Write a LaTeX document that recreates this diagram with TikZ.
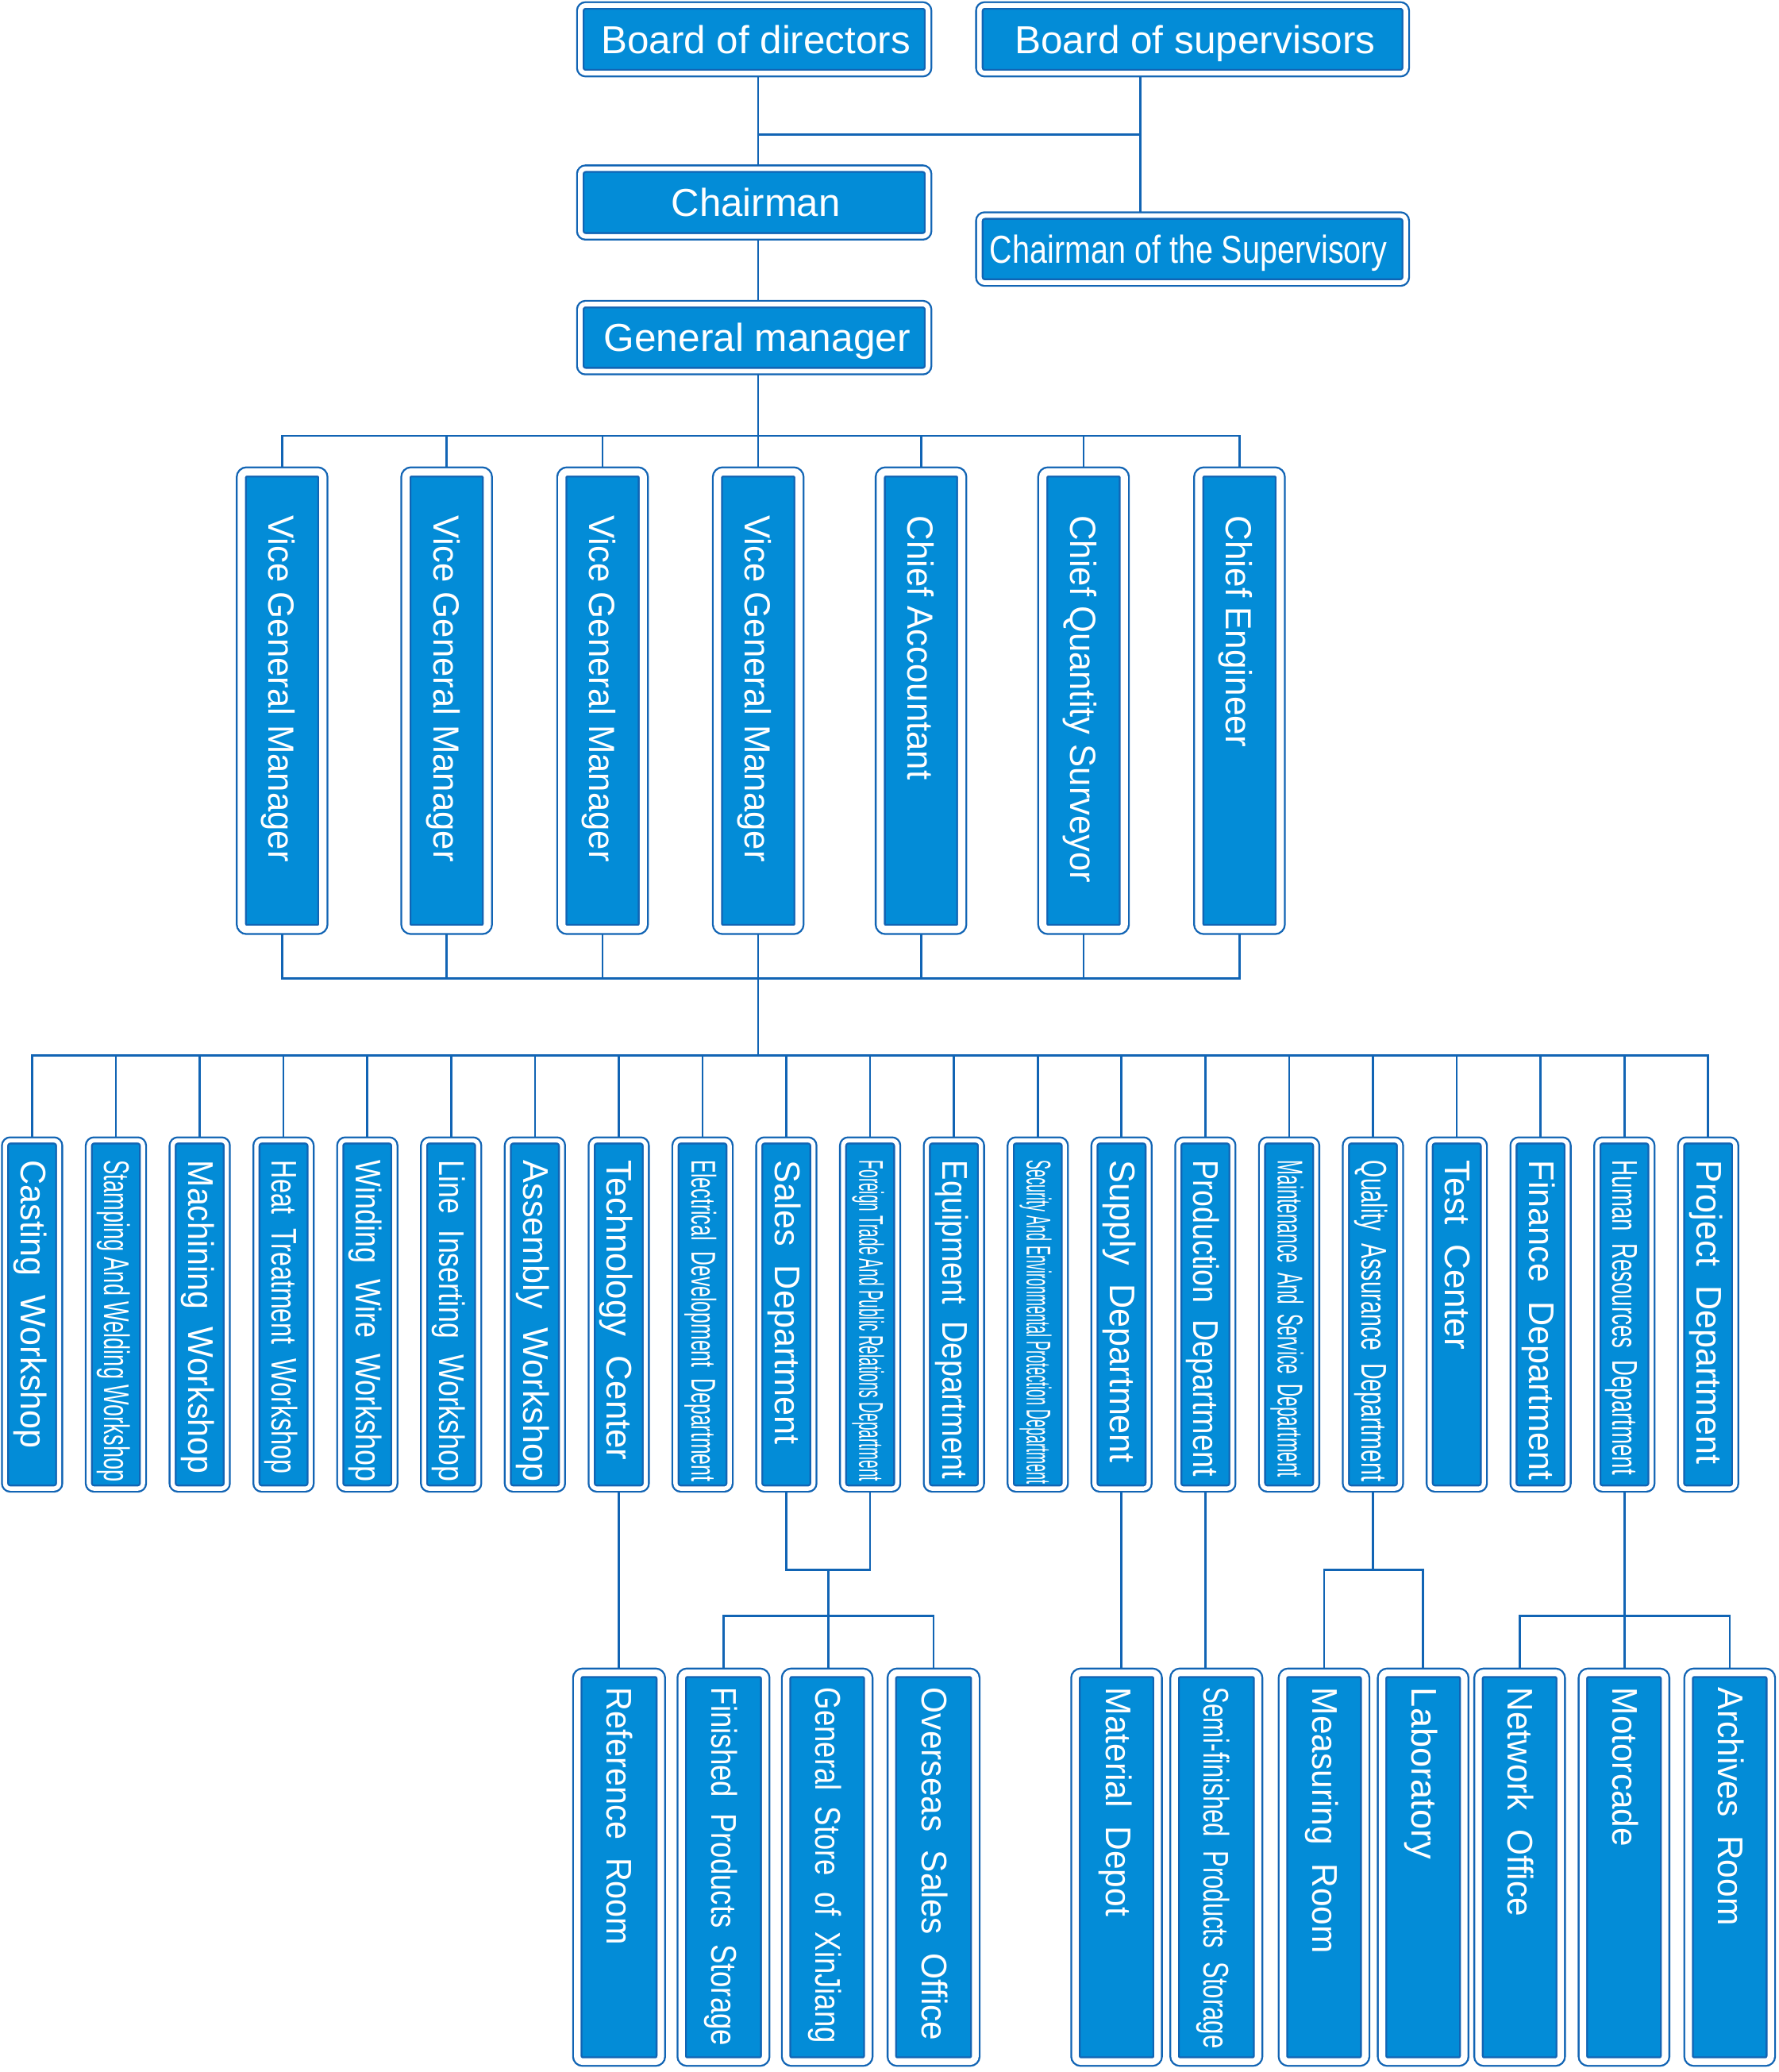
\documentclass[tikz,border=0pt]{standalone}
\usepackage{fontspec}
\usepackage{graphicx}
\setmainfont{Liberation Sans}
\usetikzlibrary{backgrounds,calc}
\definecolor{cfill}{RGB}{3,140,215}
\definecolor{cline}{RGB}{17,100,180}
\tikzset{
  conn/.style={draw=cline, line width=1.6pt},
  orgbox/.style={draw=cline, double=white, double distance=#1, line width=1.4pt,
    fill=cfill, rounded corners=4pt, inner sep=0pt},
  vlab/.style={text=white, inner sep=0pt, rotate=-90, anchor=base west},
  hlab/.style={text=white, inner sep=0pt, anchor=base},
}
% name, x1, y1, x2, y2, gap
\newcommand\obox[6]{\node[orgbox=#6pt,
  minimum width={((#4)-(#2)-#6-2.8)*1pt},
  minimum height={((#5)-(#3)-#6-2.8)*1pt}] (#1) at ({((#2)+(#4))/2},{((#3)+(#5))/2}) {};}
% name, cx, ytop, size, length, text
\newcommand\vlabel[6]{\node[vlab] (#1) at ({#2-0.358*#4},#3)
  {\fontsize{#4pt}{#4pt}\selectfont\resizebox{#5pt}{\height}{#6}};}
% name, cx, cy, size, length, text
\newcommand\hlabel[6]{\node[hlab] (#1) at (#2,{#3+0.358*#4})
  {\fontsize{#4pt}{#4pt}\selectfont\resizebox{#5pt}{\height}{#6}};}
\begin{document}
\begin{tikzpicture}[x=1pt,y=-1pt]
\useasboundingbox (0,0) rectangle (1346,1568);

% ---------- top boxes ----------
\obox{bod}{436}{1}{705.5}{58.5}{3.5}
\obox{bos}{738}{1}{1067}{58.5}{3.5}
\obox{chair}{436}{124.5}{705.5}{182}{3.5}
\obox{cos}{738}{160}{1067}{217}{3.5}
\obox{gm}{436}{227}{705.5}{284}{3.5}
\hlabel{tbod}{572}{29.75}{29.5}{234}{Board of directors}
\hlabel{tbos}{904.5}{29.75}{29.5}{273}{Board of supervisors}
\hlabel{tchair}{572}{153.25}{29.5}{128}{Chairman}
\hlabel{tcos}{899.5}{188.5}{29.5}{301}{Chairman of the Supervisory}
\hlabel{tgm}{573}{255.5}{29.5}{232}{General manager}

% ---------- second row ----------
\obox{v1}{178.5}{353}{248.5}{707.5}{5.5}
\obox{v2}{303}{353}{373}{707.5}{5.5}
\obox{v3}{421}{353}{491}{707.5}{5.5}
\obox{v4}{538.8}{353}{608.8}{707.5}{5.5}
\obox{v5}{662}{353}{732}{707.5}{5.5}
\obox{v6}{785}{353}{855}{707.5}{5.5}
\obox{v7}{903}{353}{973}{707.5}{5.5}
\vlabel{tv1}{213.5}{390}{27.5}{262}{Vice General Manager}
\vlabel{tv2}{338}{390}{27.5}{262}{Vice General Manager}
\vlabel{tv3}{456}{390}{27.5}{262}{Vice General Manager}
\vlabel{tv4}{573.8}{390}{27.5}{262}{Vice General Manager}
\vlabel{tv5}{697}{390}{27.5}{200}{Chief Accountant}
\vlabel{tv6}{820}{390}{27.5}{278}{Chief Quantity Surveyor}
\vlabel{tv7}{938}{390}{27.5}{175}{Chief Engineer}

% ---------- third row ----------
\foreach \sz/\len/\txt [count=\i] in {
  27/218/Casting~~Workshop,
  27/243/Stamping And Welding Workshop,
  27/237/Machining~~Workshop,
  27/237/Heat~~Treatment~~Workshop,
  27/243/Winding~~Wire~~Workshop,
  27/243/Line~~Inserting~~Workshop,
  27/243/Assembly~~Workshop,
  27/227/Technology~~Center,
  26/243/Electrical~~Development~~Department,
  27/215/Sales~~Department,
  26/243/Foreign Trade And Public Relations Department,
  27/241/Equipment~~Department,
  26/245/Security And Environmental Protection Department,
  27/229/Supply~~Department,
  27/239/Production~~Department,
  27/240/Maintenance~~And~~Service~~Department,
  27/243/Quality~~Assurance~~Department,
  27/143/Test~~Center,
  27/242/Finance~~Department,
  27/238/Human~~Resources~~Department,
  27/230/Project~~Department}{
  \pgfmathsetmacro\cx{24.3+63.42*(\i-1)}
  \obox{r\i}{\cx-23.5}{860}{\cx+23.5}{1129.5}{3.2}
  \vlabel{t\i}{\cx+1}{878}{\sz}{\len}{\txt}
}

% ---------- bottom row ----------
\obox{ref}{433}{1262}{504}{1564}{5}
\obox{fin}{512}{1262}{583}{1564}{5}
\obox{gen}{591}{1262}{661}{1564}{5}
\obox{ovs}{671}{1262}{742}{1564}{5}
\obox{mat}{810}{1262}{880}{1564}{5}
\obox{semi}{885}{1262}{956}{1564}{5}
\obox{meas}{967}{1262}{1037}{1564}{5}
\obox{lab}{1042}{1262}{1112}{1564}{5}
\obox{net}{1115}{1262}{1185}{1564}{5}
\obox{mot}{1194}{1262}{1264}{1564}{5}
\obox{arc}{1274}{1262}{1344}{1564}{5}
\vlabel{tref}{469}{1277}{27}{195}{Reference~~Room}
\vlabel{tfin}{548.5}{1277}{27}{271}{Finished~~Products~~Storage}
\vlabel{tgen}{627}{1277}{27}{269}{General~~Store~~of~~XinJiang}
\vlabel{tovs}{707.5}{1277}{27}{267}{Overseas~~Sales~~Office}
\vlabel{tmat}{847}{1277}{27}{173}{Material~~Depot}
\vlabel{tsemi}{921}{1277}{27}{273}{Semi-finished~~Products~~Storage}
\vlabel{tmeas}{1003}{1277}{27}{201}{Measuring~~Room}
\vlabel{tlab}{1078}{1277}{27}{130}{Laboratory}
\vlabel{tnet}{1151}{1277}{27}{173}{Network~~Office}
\vlabel{tmot}{1230}{1277}{27}{120}{Motorcade}
\vlabel{tarc}{1310}{1277}{27}{180}{Archives~~Room}

% ---------- connectors ----------
\coordinate (sp) at (573.7,0);
\coordinate (sv) at (863,0);
\coordinate (hj) at (0,102);
\coordinate (h2) at (0,329.8);
\coordinate (h3) at (0,740.5);
\coordinate (h4) at (0,798.8);
\coordinate (h5) at (0,1188);
\coordinate (h6) at (0,1223);

\begin{pgfonlayer}{background}
\fill[white] (0,0) rectangle (1346,1568);
\draw[conn] (bod.south -| sp) -- (chair.north -| sp);
\draw[conn] (bos.south -| sv) -- (cos.north -| sv);
\draw[conn] (hj -| sp) -- (hj -| sv);
\draw[conn] (chair.south -| sp) -- (gm.north -| sp);
\draw[conn] (gm.south -| sp) -- (h2 -| sp);
% second row
\draw[conn] (v1.north) -- (v1.north |- h2) -- (v7.north |- h2) -- (v7.north);
\foreach \n in {v2,v3,v4,v5,v6} \draw[conn] (\n.north) -- (\n.north |- h2);
\draw[conn] (v1.south) -- (v1.south |- h3) -- (v7.south |- h3) -- (v7.south);
\foreach \n in {v2,v3,v4,v5,v6} \draw[conn] (\n.south) -- (\n.south |- h3);
\draw[conn] (h3 -| sp) -- (h4 -| sp);
% third row
\draw[conn] (r1.north) -- (r1.north |- h4) -- (r21.north |- h4) -- (r21.north);
\foreach \k in {2,...,20} \draw[conn] (r\k.north) -- (r\k.north |- h4);
% lower branches
\draw[conn] (r8.south) -- (ref.north -| r8.south);
\draw[conn] (r10.south) -- (r10.south |- h5) -- (r11.south |- h5) -- (r11.south);
\coordinate (m1) at ($(r10.south |- h5)!0.5!(r11.south |- h5)$);
\draw[conn] (m1) -- (gen.north -| m1);
\draw[conn] (fin.north) -- (fin.north |- h6) -- (ovs.north |- h6) -- (ovs.north);
\draw[conn] (r14.south) -- (mat.north -| r14.south);
\draw[conn] (r15.south) -- (semi.north -| r15.south);
\draw[conn] (r17.south) -- (r17.south |- h5);
\draw[conn] (meas.north) -- (meas.north |- h5) -- (lab.north |- h5) -- (lab.north);
\draw[conn] (r20.south) -- (mot.north -| r20.south);
\draw[conn] (net.north) -- (net.north |- h6) -- (arc.north |- h6) -- (arc.north);
\end{pgfonlayer}
\end{tikzpicture}
\end{document}
